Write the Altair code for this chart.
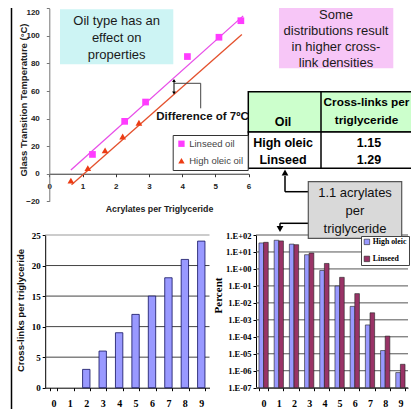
import altair as alt
import pandas as pd

# ---------------- data ----------------
# top-left scatter: glass transition temperature vs acrylates per triglyceride
linseed_acr = [1.30, 2.27, 2.90, 4.16, 5.11, 5.77]
linseed_tg = [14, 38, 52, 85, 99, 111]
oleic_acr = [0.65, 1.16, 1.68, 2.21, 2.70]
oleic_tg = [-5, 4, 17, 27, 37]
linseed_fit_acr = [0.65, 5.84]
linseed_fit_tg = [2.7, 114.5]
oleic_fit_acr = [0.67, 5.80]
oleic_fit_tg = [-8, 101]
scatter_series = ["Linseed oil", "High oleic oil"]
tg_ticks = [-20, 0, 20, 40, 60, 80, 100, 120]
acr_ticks = [0, 1, 2, 3, 4, 5, 6]

# bottom-left bars: cross-links per triglyceride
acrylates = [0, 1, 2, 3, 4, 5, 6, 7, 8, 9]
crosslinks = [0, 0, 3, 6, 9, 12, 15, 18, 21, 24]
crosslink_ticks = [0, 5, 10, 15, 20, 25]

# bottom-right log bars: percent of triglycerides
pct_series = ["High oleic", "Linseed"]
high_oleic_pct = [34, 49, 29, 6.9, 0.81, 0.098, 0.0062, 5.0e-4, 1.55e-5, 7.8e-7]
linseed_pct = [37, 45, 27, 8.7, 2.1, 0.32, 0.035, 2.6e-3, 1.1e-4, 2.4e-6]
pct_ticks = [1e2, 1e1, 1e0, 1e-1, 1e-2, 1e-3, 1e-4, 1e-5, 1e-6, 1e-7]
pct_tick_labels = ["1.E+02", "1.E+01", "1.E+00", "1.E-01", "1.E-02",
                   "1.E-03", "1.E-04", "1.E-05", "1.E-06", "1.E-07"]

# table
table_oils = ["High oleic", "Linseed"]
table_crosslinks = ["1.15", "1.29"]
table_header = ["Oil", "Cross-links per\ntriglyceride"]

# annotation texts
txt_oil_type = "Oil type has an\neffect on\nproperties"
txt_distrib = "Some\ndistributions result\nin higher cross-\nlink densities"
txt_acrylates = "1.1 acrylates\nper\ntriglyceride"
txt_difference = "Difference of 7\u00baC"

# ---------------- layout ----------------
W, H = 403, 401
SANS = "Liberation Sans"
SERIF = "Liberation Serif"
A_XR = [41.3, 240.5]
A_YR = [193.3, 0.3]
B_XR = [37.2, 201.5]
B_YR = [379.7, 227.0]
C_XR = [248.0, 400.0]
C_YR = [379.7, 227.0]

one = pd.DataFrame({"k": [0]})


def rect(x1, x2, y1, y2, **kw):
    return alt.Chart(one).mark_rect(**kw).encode(
        x=alt.value(x1), x2=alt.value(x2), y=alt.value(y1), y2=alt.value(y2))


def rule(x1, x2, y1, y2, color="black", width=1.5):
    return alt.Chart(one).mark_rule(color=color, strokeWidth=width).encode(
        x=alt.value(x1), x2=alt.value(x2), y=alt.value(y1), y2=alt.value(y2))


def label(x, y, text, **kw):
    # y is the centre of the first line
    return alt.Chart(one).mark_text(lineBreak="\n", **kw).encode(
        x=alt.value(x), y=alt.value(y), text=alt.value(text))


def head(x, y, shape, size=40, color="black"):
    return alt.Chart(one).mark_point(shape=shape, filled=True, size=size,
                                     color=color, opacity=1).encode(
        x=alt.value(x), y=alt.value(y))


layers = []

# left slide border
layers.append(rule(3.5, 3.5, 0, H, width=1.5))

# ---------------- panel A: scatter ----------------
pts = pd.DataFrame({
    "acr": linseed_acr + oleic_acr,
    "tg": linseed_tg + oleic_tg,
    "oil": [scatter_series[0]] * len(linseed_acr) + [scatter_series[1]] * len(oleic_acr),
})
fits = pd.DataFrame({
    "acr": linseed_fit_acr + oleic_fit_acr,
    "tg": linseed_fit_tg + oleic_fit_tg,
    "oil": [scatter_series[0]] * 2 + [scatter_series[1]] * 2,
})
a_x = alt.Scale(domain=[0, 6], range=A_XR, nice=False, zero=False)
a_y = alt.Scale(domain=[-20, 120], range=A_YR, nice=False, zero=False)
a_col = alt.Scale(domain=scatter_series, range=["#ff3cff", "#ec3c14"])
a_lcol = alt.Scale(domain=scatter_series, range=["#e84ee8", "#e4502c"])
a_shape = alt.Scale(domain=scatter_series, range=["square", "triangle-up"])
leg_a = dict(orient="none", legendX=164.7, legendY=127, title=None,
             fillColor="white", strokeColor="#333", padding=4,
             labelFont=SANS, labelFontSize=9.5, labelColor="#444",
             symbolSize=40, rowPadding=6, labelOffset=3, symbolStrokeWidth=0)
a_xaxis = alt.Axis(orient="bottom", offset=165.73 - H, values=acr_ticks,
                   tickSize=3, labelPadding=6, labelFont=SANS,
                   labelFontWeight="bold", labelFontSize=8, labelColor="#222",
                   domainColor="#333", tickColor="#333", grid=False,
                   labelFlush=False, labelOverlap=False,
                   title="Acrylates per Triglyceride", titleFont=SANS,
                   titleFontSize=8.8, titleFontWeight="bold", titleColor="#222",
                   titleX=151, titleY=35, titleAlign="center",
                   titleBaseline="middle")
a_yaxis = alt.Axis(orient="left", offset=-A_XR[0], values=tg_ticks,
                   tickSize=3, labelPadding=7, labelFont=SANS,
                   labelFontWeight="bold", labelFontSize=8, labelColor="#222",
                   labelBaseline=alt.ExprRef(expr="datum.value == 120 ? 'top' : 'middle'"),
                   domainColor="#777", tickColor="#777", grid=False,
                   labelFlush=False, labelOverlap=False,
                   title="Glass Transition Temperature (\u00b0C)", titleFont=SANS,
                   titleFontSize=9.5, titleFontWeight="bold", titleColor="#222",
                   titleX=15 - A_XR[0], titleY=91.5, titleAngle=270,
                   titleAlign="center", titleBaseline="middle")

layers.append(alt.Chart(fits).mark_line(strokeWidth=1.3).encode(
    x=alt.X("acr:Q", scale=a_x, axis=None),
    y=alt.Y("tg:Q", scale=a_y, axis=None),
    color=alt.Color("oil:N", scale=a_lcol, legend=None)))
layers.append(alt.Chart(pts).mark_point(filled=True, size=45, opacity=1).encode(
    x=alt.X("acr:Q", scale=a_x, axis=a_xaxis),
    y=alt.Y("tg:Q", scale=a_y, axis=a_yaxis),
    color=alt.Color("oil:N", scale=a_col, legend=alt.Legend(**leg_a)),
    shape=alt.Shape("oil:N", scale=a_shape, legend=alt.Legend(**leg_a))))

# cyan note
layers.append(rect(52, 165.3, 1.3, 56.3, fill="#cdf4f4"))
layers.append(label(108.7, 12.5, txt_oil_type, font=SANS, fontSize=13,
                    lineHeight=17, align="center", baseline="middle", color="#1a1a1a"))

# difference annotation
layers.append(rule(166, 166, 72, 85, width=1))
layers.append(head(166, 72.5, "triangle-up", size=14))
layers.append(head(166, 85, "triangle-down", size=14))
layers.append(rule(166, 192.7, 75.3, 75.3, color="#444", width=1))
layers.append(rule(192.7, 192.7, 75.3, 100.3, color="#444", width=1))
layers.append(label(194.5, 108.7, txt_difference, font=SANS, fontSize=11.5,
                    fontWeight="bold", align="center", baseline="middle", color="#111"))

# ---------------- table ----------------
layers.append(rect(240.3, 420, 83.7, 124, fill="#ccffcc", stroke="black", strokeWidth=1.5))
layers.append(rect(240.3, 420, 124, 160.3, fill="white", stroke="black", strokeWidth=1.5))
layers.append(rule(313, 313, 83.7, 160.3, width=1.5))
layers.append(label(275, 114, table_header[0], font=SANS, fontSize=12.5,
                    fontWeight="bold", align="center", baseline="middle", color="black"))
layers.append(label(358.5, 94, table_header[1], font=SANS, fontSize=11.8,
                    fontWeight="bold", lineHeight=18, align="center",
                    baseline="middle", color="black"))
tbl = pd.DataFrame({"oil": table_oils, "cl": table_crosslinks})
t_y = alt.Scale(type="point", domain=table_oils, range=[134.5, 151.5], padding=0)
layers.append(alt.Chart(tbl).mark_text(font=SANS, fontSize=12.5, fontWeight="bold",
                                       align="center", baseline="middle", color="black").encode(
    x=alt.value(275), y=alt.Y("oil:N", scale=t_y, axis=None), text="oil:N"))
layers.append(alt.Chart(tbl).mark_text(font=SANS, fontSize=12.5, fontWeight="bold",
                                       align="center", baseline="middle", color="black").encode(
    x=alt.value(361), y=alt.Y("oil:N", scale=t_y, axis=None), text="cl:N"))

# pink note
layers.append(rect(271, 385.3, 0, 60.3, fill="#f7c6f7"))
layers.append(label(328, 6.5, txt_distrib, font=SANS, fontSize=13, lineHeight=16,
                    align="center", baseline="middle", color="#1a1a1a"))

# ---------------- panel B: cross-links bars ----------------
b_df = pd.DataFrame({"acr": acrylates, "cl": crosslinks})
b_x = alt.Scale(domain=acrylates, range=B_XR, paddingInner=0.55, paddingOuter=0.275)
b_y = alt.Scale(domain=[0, 25], range=B_YR, nice=False, zero=True)
b_xaxis = alt.Axis(orient="bottom", offset=B_YR[0] - H, tickBand="extent",
                   tickSize=3, labelPadding=8, labelFont=SERIF,
                   labelFontWeight="bold", labelFontSize=10, labelColor="black",
                   domainColor="black", tickColor="black", labelAngle=0,
                   title=None, grid=False)
b_yaxis = alt.Axis(orient="left", offset=-B_XR[0], values=crosslink_ticks,
                   tickSize=3, labelPadding=2, labelFont=SERIF,
                   labelFontWeight="bold", labelFontSize=9, labelColor="black",
                   domainColor="black", tickColor="black", grid=False,
                   labelFlush=False, labelOverlap=False,
                   title="Cross-links per triglyceride", titleFont=SANS,
                   titleFontSize=9.5, titleFontWeight="bold", titleColor="#111",
                   titleX=12.7 - B_XR[0], titleY=302, titleAngle=270,
                   titleAlign="center", titleBaseline="middle")
layers.append(alt.Chart(pd.DataFrame({"cl": crosslink_ticks[1:]})).mark_rule(strokeWidth=1).encode(
    y=alt.Y("cl:Q", scale=b_y, axis=None),
    x=alt.value(B_XR[0]), x2=alt.value(B_XR[1]),
    color=alt.condition(alt.datum.cl == crosslink_ticks[-1], alt.value("#999"), alt.value("#444"))))
layers.append(alt.Chart(b_df).mark_bar(fill="#9999ff", stroke="#101060", strokeWidth=0.8).encode(
    x=alt.X("acr:O", scale=b_x, axis=b_xaxis),
    y=alt.Y("cl:Q", scale=b_y, axis=b_yaxis),
    strokeOpacity=alt.condition(alt.datum.cl > 0, alt.value(1), alt.value(0))))

# ---------------- panel C: log distribution bars ----------------
c_df = pd.DataFrame({
    "acr": acrylates * 2,
    "pct": high_oleic_pct + linseed_pct,
    "oil": [pct_series[0]] * len(acrylates) + [pct_series[1]] * len(acrylates),
})
c_x = alt.Scale(domain=acrylates, range=C_XR, paddingInner=0.39, paddingOuter=0.195)
c_y = alt.Scale(type="log", domain=[pct_ticks[-1], pct_ticks[0]], range=C_YR, nice=False)
label_list = "[" + ",".join("'" + s + "'" for s in pct_tick_labels) + "]"
c_xaxis = alt.Axis(orient="bottom", offset=C_YR[0] - H, tickBand="extent",
                   tickSize=3, labelPadding=8, labelFont=SERIF,
                   labelFontWeight="bold", labelFontSize=10, labelColor="black",
                   domainColor="black", tickColor="black", labelAngle=0,
                   title=None, grid=False)
c_yaxis = alt.Axis(orient="left", offset=-C_XR[0], values=pct_ticks,
                   labelExpr=label_list + "[round(2 - log(datum.value) / LN10)]",
                   tickSize=3, labelPadding=2, labelFont=SERIF,
                   labelFontWeight="bold", labelFontSize=8.5, labelColor="black",
                   domainColor="black", tickColor="black", grid=False,
                   labelFlush=False, labelOverlap=False,
                   title="Percent", titleFont=SERIF, titleFontSize=11,
                   titleFontWeight="bold", titleColor="black",
                   titleX=210 - C_XR[0], titleY=287, titleAngle=270,
                   titleAlign="center", titleBaseline="middle")
leg_c = dict(orient="none", legendX=353, legendY=228, title=None,
             fillColor="white", strokeColor="#444", padding=2,
             labelFont=SERIF, labelFontWeight="bold", labelFontSize=7.8,
             labelColor="black", symbolType="square", symbolSize=30,
             symbolStrokeColor="#222", symbolStrokeWidth=0.6, rowPadding=8,
             labelOffset=2)
layers.append(alt.Chart(pd.DataFrame({"pct": pct_ticks})).mark_rule(color="#555", strokeWidth=1).encode(
    y=alt.Y("pct:Q", scale=c_y, axis=None),
    x=alt.value(C_XR[0]), x2=alt.value(C_XR[1])))
layers.append(alt.Chart(c_df).mark_bar(stroke="#222", strokeWidth=0.6).encode(
    x=alt.X("acr:O", scale=c_x, axis=c_xaxis),
    xOffset=alt.XOffset("oil:N", scale=alt.Scale(domain=pct_series)),
    y=alt.Y("pct:Q", scale=c_y, axis=c_yaxis),
    y2=alt.datum(pct_ticks[-1]),
    color=alt.Color("oil:N", scale=alt.Scale(domain=pct_series, range=["#9999ff", "#993366"]),
                    legend=alt.Legend(**leg_c))))

# ---------------- gray note with connectors ----------------
layers.append(rule(277, 277, 168, 183.7, width=1.5))
layers.append(rule(277, 300.3, 183.7, 183.7, width=1.5))
layers.append(head(277, 164.5, "triangle-up", size=45))
layers.append(rule(272, 300.3, 215.3, 215.3, width=1.5))
layers.append(rule(272, 272, 215.3, 219, width=1.5))
layers.append(head(272, 221, "triangle-down", size=45))
layers.append(rect(300.3, 393.7, 173.7, 230.3, fill="#d9d9d9", stroke="#555", strokeWidth=1.2))
layers.append(label(347, 185.3, txt_acrylates, font=SANS, fontSize=13, lineHeight=18,
                    align="center", baseline="middle", color="#111"))

chart = alt.layer(*layers).resolve_scale(
    x="independent", y="independent", color="independent", shape="independent"
).properties(
    width=W, height=H, autosize=alt.AutoSizeParams(type="none"), padding=0
).configure_view(strokeWidth=0)

chart.save("out.html", embed_options={"renderer": "svg", "actions": False})
